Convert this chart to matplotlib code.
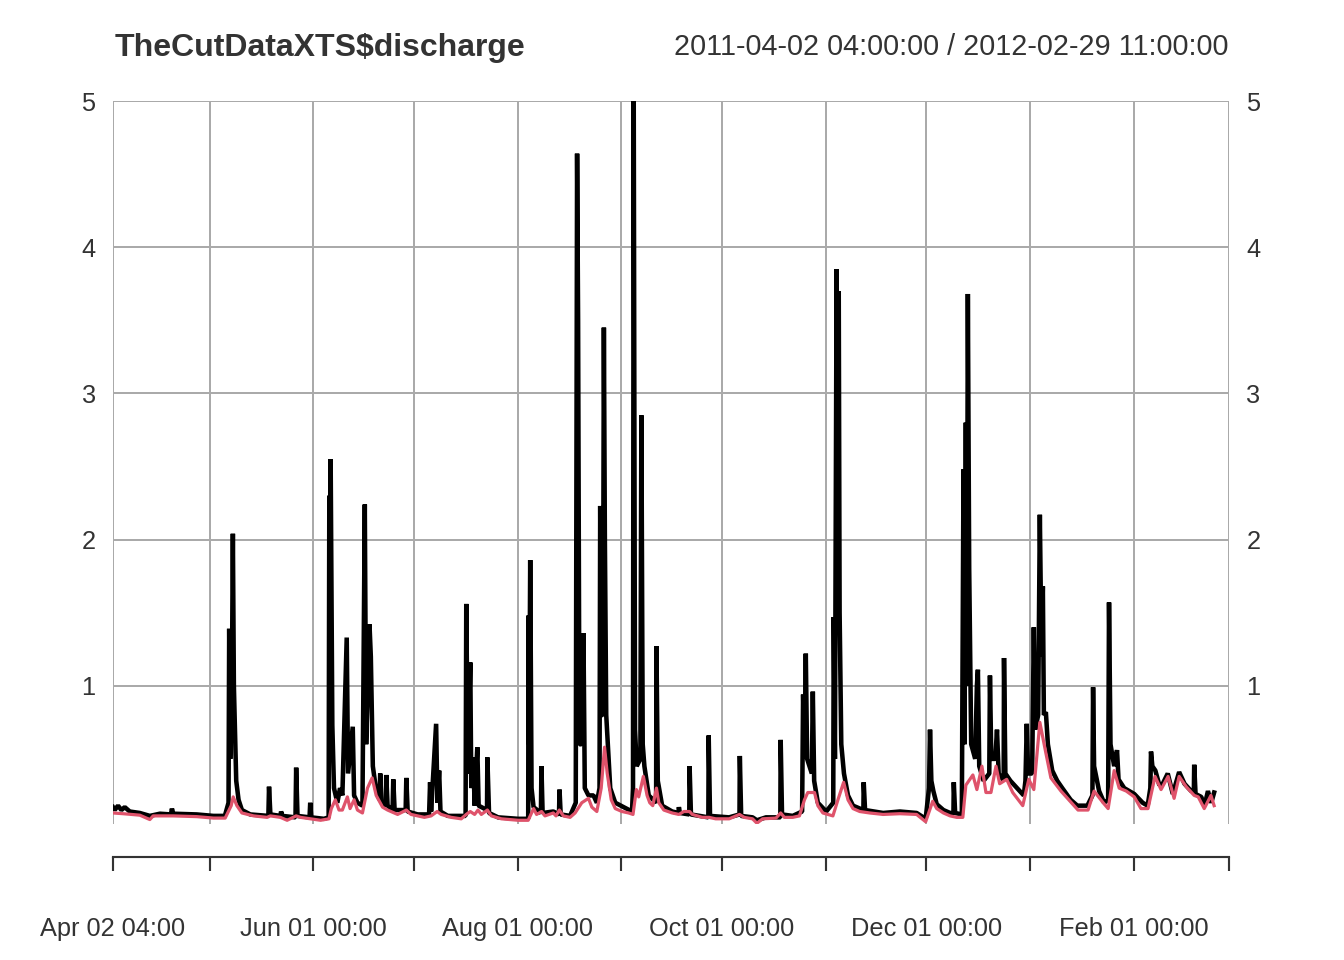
"""Recreate the xts discharge plot (black series + red smoothed series)."""

import matplotlib

matplotlib.use("Agg")

import matplotlib.pyplot as plt
import pandas as pd

plt.rcParams["font.family"] = ["Liberation Sans", "DejaVu Sans"]

START = pd.Timestamp("2011-04-02 04:00")
END = pd.Timestamp("2012-02-29 11:00")

TITLE = "TheCutDataXTS$discharge"
RANGE_TEXT = "2011-04-02 04:00:00 / 2012-02-29 11:00:00"

# days since START, discharge
black_days = [
    0, 0.5, 1.5, 2.5, 3.5, 5, 8, 11, 14, 17.3, 17.6, 18, 25, 30, 33.4,
    34.5, 34.7, 35.0, 35.5, 35.8, 36.1, 36.4, 36.8, 37.5, 38.5, 41,
    46.4, 46.6, 47.0, 50.0, 50.2, 50.6, 54.5, 54.7, 55.1, 58.7, 58.9, 59.2, 63, 64.4,
    64.6, 64.8, 65.0, 65.3, 65.5, 66, 67, 67.8, 68.5, 69.8, 70.2, 71.6, 72, 73, 74.5,
    75.2, 75.6, 76.6, 77.0, 77.6, 78.5, 79.6, 79.8, 80.2, 81.5, 81.6, 82, 83.5, 83.7,
    84.1, 87.4, 87.6, 88, 91, 94.4, 94.7, 95, 96.5, 96.9, 97.4, 97.8, 100, 105.3,
    105.5, 106, 106.7, 107.0, 107.6, 108, 108.8, 109.2, 111.7, 111.8, 112.3, 115, 121, 124,
    124.1, 124.3, 124.6, 125, 125.6, 127.8, 127.95, 128.3, 131.5, 133.2, 133.35, 133.7,
    136.5, 138.2, 138.6, 138.9, 139.3, 139.9, 140.5, 140.9, 142, 143.5, 144.5, 145.3,
    145.5, 145.8, 146.3, 146.6, 146.9, 147.3, 148.5, 150, 155, 155.3, 155.5, 155.9,
    156.4, 157.5, 157.8, 158.2, 158.7, 160, 162.2, 162.3, 162.7, 164, 167, 168.9, 169,
    169.3, 172.1, 172.2, 172.6, 177.8, 177.9, 178.3, 184, 187.1, 187.2, 187.6, 191,
    192.3, 195, 199.3, 199.4, 199.8, 203, 205.8, 206.1, 206.5, 206.9, 207.3, 208.7,
    209.0, 209.4, 210.5, 213, 215.1, 215.25, 215.6, 216.1, 216.5, 216.74, 217, 217.5,
    218.3, 219.5, 221, 224.1, 224.2, 224.6, 230, 235, 240, 242.7, 243.7, 244.0, 244.4,
    245, 246, 248, 250, 251.0, 251.1, 251.5, 253.5, 254.0, 254.3, 254.7, 255.0, 255.3,
    255.7, 256.3, 257.5, 258.0, 258.3, 258.7, 260, 261.7, 261.9, 262.3, 263.5, 264,
    264.5, 266, 266.1, 266.5, 268, 270, 272, 272.5, 272.9, 273.3, 274.5, 275.0, 275.4,
    276.3, 276.8, 277.3, 277.7, 278.0, 278.6, 279.2, 280.5, 282, 283.5, 286, 288, 291,
    292.5, 292.7, 293, 294.5, 296, 297.2, 297.46, 297.9, 299, 299.85, 300.3, 302, 305,
    307.5, 309, 309.8, 310.0, 310.4, 311.3, 312.5, 313.5, 315, 316.5, 318.4, 320, 322,
    322.8, 322.9, 323.3, 325, 326, 327, 328, 328.85,
]
black_values = [
    0.17, 0.15, 0.18, 0.15, 0.17, 0.14, 0.13, 0.11, 0.125, 0.12, 0.16, 0.125, 0.12, 0.11, 0.11,
    0.2, 1.39, 0.5, 1.0, 2.04, 1.0, 0.73, 0.35, 0.22, 0.15, 0.12,
    0.11, 0.31, 0.12, 0.11, 0.14, 0.11, 0.10, 0.44, 0.11, 0.1, 0.2, 0.1, 0.09, 0.1,
    2.3, 0.5, 2.55, 1.5, 0.73, 0.3, 0.2, 0.3, 0.25, 1.33, 0.4, 0.72, 0.25, 0.2, 0.18,
    2.24, 0.6, 1.42, 1.2, 0.45, 0.3, 0.22, 0.4, 0.2, 0.18, 0.39, 0.18, 0.15, 0.36,
    0.15, 0.15, 0.37, 0.14, 0.12, 0.12, 0.34, 0.14, 0.74, 0.2, 0.42, 0.14, 0.11, 0.11,
    1.56, 0.4, 1.16, 0.3, 0.51, 0.18, 0.58, 0.18, 0.15, 0.51, 0.13, 0.1, 0.09, 0.09,
    1.48, 0.6, 1.86, 0.3, 0.17, 0.13, 0.45, 0.13, 0.14, 0.12, 0.29, 0.12,
    0.11, 0.2, 4.64, 3.5, 0.6, 0.6, 1.36, 0.3, 0.25, 0.25, 0.2, 0.3,
    2.23, 0.8, 0.8, 3.45, 2.0, 0.8, 0.3, 0.2, 0.14, 0.3, 5.2, 0.7,
    0.45, 0.5, 2.85, 0.6, 0.45, 0.25, 0.2, 1.27, 0.35, 0.18, 0.14, 0.13, 0.17,
    0.13, 0.12, 0.45, 0.12, 0.1, 0.66, 0.11, 0.1, 0.12, 0.52, 0.11, 0.1,
    0.08, 0.1, 0.1, 0.63, 0.12, 0.11, 0.14, 0.94, 0.5, 1.22, 0.5, 0.4,
    0.96, 0.35, 0.2, 0.14, 0.2, 1.47, 0.5, 3.85, 1.5, 3.7, 1.5, 0.6,
    0.4, 0.25, 0.18, 0.15, 0.34, 0.15, 0.13, 0.14, 0.13, 0.09, 0.3, 0.7, 0.35,
    0.28, 0.19, 0.15, 0.13, 0.13, 0.34, 0.13, 0.12, 2.48, 0.6, 2.8, 1.0, 3.68,
    1.8, 0.6, 0.5, 1.0, 1.11, 0.45, 0.35, 0.4, 1.07, 0.5, 0.5, 0.7,
    0.4, 0.35, 1.19, 0.4, 0.35, 0.3, 0.25, 0.35, 0.74, 0.4, 0.4, 1.4, 0.7,
    0.8, 2.17, 1.2, 1.68, 0.8, 0.82, 0.6, 0.42, 0.35, 0.3, 0.22, 0.18, 0.18,
    0.25, 0.99, 0.45, 0.28, 0.2, 0.22, 1.57, 0.6, 0.45, 0.56, 0.36, 0.3, 0.26,
    0.2, 0.18, 0.3, 0.55, 0.45, 0.42, 0.32, 0.33, 0.4, 0.26, 0.41, 0.33, 0.28,
    0.28, 0.46, 0.26, 0.24, 0.18, 0.28, 0.2, 0.27,
]

red_days = [
    0, 3, 8, 11, 12, 18, 25, 30, 33.5, 35.3, 35.9, 37, 38.5, 42, 46, 47, 50, 52, 54.7,
    56, 59, 62, 64.5, 65.2, 66.4, 67.5, 68.5, 70, 70.8, 72, 73, 74.5, 76, 77.4, 78.6,
    79.8, 80.5, 82, 85, 87.6, 89, 93, 95, 96.8, 98, 101, 104, 105.5, 106.7, 108, 109,
    110, 111.8, 113, 116, 121, 124, 125.6, 126.5, 128, 129, 131.5, 132.3, 133.3, 134.5,
    136.5, 138, 140, 142, 143, 144.5, 145.8, 146.8, 147.6, 148.8, 150, 152, 154, 155.3,
    156.3, 157, 158.4, 159.5, 160.3, 161.2, 162.3, 163, 164.5, 167, 169, 170.5, 172.2,
    173, 176, 178, 180, 184, 187.1, 188.5, 191, 192.3, 194, 198, 199.4, 200.5, 203, 205,
    206.5, 207.5, 209.5, 210.5, 212, 213.5, 215, 216.5, 218.2, 219.5, 221, 223, 226,
    230, 235, 240, 242.7, 244.8, 246, 248, 250, 252, 253.8, 254.7, 256.8, 258.0, 259.5,
    260.7, 262.2, 263.7, 264.8, 266.9, 268.7, 271.7, 273.5, 275.0, 276.8, 278.6, 280.1,
    283.1, 288.2, 291.2, 293.0, 295.7, 297.2, 299.0, 300.5, 302.6, 305.0, 307.0, 309.1,
    311.2, 313.0, 315.1, 316.9, 318.4, 320.5, 322.9, 324.1, 325.9, 327.9, 328.85,
]
red_values = [
    0.13, 0.125, 0.115, 0.085, 0.11, 0.11, 0.105, 0.095, 0.095, 0.18, 0.24, 0.18, 0.13,
    0.11, 0.1, 0.11, 0.1, 0.08, 0.11, 0.1, 0.09, 0.08, 0.09, 0.16, 0.22, 0.15, 0.15, 0.24,
    0.16, 0.22, 0.15, 0.13, 0.3, 0.37, 0.25, 0.2, 0.17, 0.15, 0.12, 0.15, 0.12, 0.1, 0.11,
    0.14, 0.12, 0.1, 0.09, 0.12, 0.14, 0.12, 0.15, 0.12, 0.15, 0.11, 0.09, 0.08, 0.08,
    0.16, 0.12, 0.14, 0.11, 0.13, 0.11, 0.15, 0.11, 0.1, 0.13, 0.2, 0.23, 0.17, 0.14,
    0.3, 0.58, 0.4, 0.22, 0.16, 0.14, 0.13, 0.12, 0.29, 0.24, 0.38, 0.25, 0.2, 0.18, 0.3,
    0.2, 0.15, 0.13, 0.12, 0.14, 0.14, 0.12, 0.1, 0.1, 0.09, 0.09, 0.12, 0.1, 0.09, 0.06,
    0.09, 0.095, 0.13, 0.1, 0.1, 0.11, 0.22, 0.27, 0.27, 0.18, 0.13, 0.12, 0.11, 0.22,
    0.34, 0.22, 0.16, 0.14, 0.13, 0.12, 0.125, 0.12, 0.07, 0.21, 0.16, 0.13, 0.11, 0.1,
    0.1, 0.32, 0.39, 0.29, 0.45, 0.27, 0.27, 0.45, 0.33, 0.36, 0.27, 0.18, 0.36, 0.29,
    0.75, 0.54, 0.37, 0.28, 0.15, 0.15, 0.28, 0.2, 0.16, 0.42, 0.3, 0.28, 0.24, 0.16,
    0.16, 0.38, 0.29, 0.38, 0.23, 0.38, 0.31, 0.25, 0.24, 0.16, 0.25, 0.18,
]

label_ticks = ["2011-04-02 04:00", "2011-06-01 00:00", "2011-08-01 00:00",
               "2011-10-01 00:00", "2011-12-01 00:00", "2012-02-01 00:00"]
label_texts = ["Apr 02 04:00", "Jun 01 00:00", "Aug 01 00:00", "Oct 01 00:00", "Dec 01 00:00", "Feb 01 00:00"]
minor_ticks = ["2011-05-01 00:00", "2011-07-01 00:00", "2011-09-01 00:00",
               "2011-11-01 00:00", "2012-01-01 00:00", "2012-02-29 11:00"]
y_ticks = [1, 2, 3, 4, 5]

TEXT = "#333333"
GRID = "#AAAAAA"
RED = "#DF536B"


def main() -> None:
    fig = plt.figure(figsize=(7, 5), dpi=192)
    W, H = 1344, 960
    left, right, top, bottom = 113, 1229, 101, 823.5
    ax = fig.add_axes([left / W, 1 - bottom / H, (right - left) / W, (bottom - top) / H])

    bx = START + pd.to_timedelta(black_days, unit="D")
    rx = START + pd.to_timedelta(red_days, unit="D")
    ax.plot(bx, black_values, color="black", linewidth=1.7, solid_joinstyle="bevel", zorder=3)
    ax.plot(rx, red_values, color=RED, linewidth=1.2, zorder=4)

    ax.set_xlim(START, END)
    ax.set_ylim(0.058, 5)

    ax.set_xticks(pd.to_datetime(label_ticks, format="%Y-%m-%d %H:%M"))
    ax.set_xticklabels(label_texts)
    ax.set_xticks(pd.to_datetime(minor_ticks, format="%Y-%m-%d %H:%M"), minor=True)
    ax.set_yticks(y_ticks)
    ax.set_yticklabels([str(v) for v in y_ticks])

    for spine in ("top", "left", "right"):
        ax.spines[spine].set_visible(False)
    ax.spines["bottom"].set_position(("outward", 12.4))
    ax.spines["bottom"].set_color(TEXT)
    ax.spines["bottom"].set_linewidth(0.8)

    ax.tick_params(axis="x", which="both", direction="out", length=5.2, width=0.8,
                   color=TEXT, labelcolor=TEXT, labelsize=9.5, pad=17.5)
    ax.tick_params(axis="y", length=0, labelleft=True, labelright=True,
                   labelcolor=TEXT, labelsize=9.5, pad=6.5)

    ax.grid(True, axis="x", which="both", color=GRID, linewidth=0.75)
    ax.grid(True, axis="y", which="major", color=GRID, linewidth=0.75)
    ax.set_axisbelow(True)

    fig.text(115 / W, 1 - 56 / H, TITLE, fontsize=12, fontweight="bold", color=TEXT,
             ha="left", va="baseline")
    fig.text(1229 / W, 1 - 55 / H, RANGE_TEXT, fontsize=10.8, color=TEXT,
             ha="right", va="baseline")

    fig.savefig("out.png", dpi=192)
    plt.close(fig)


if __name__ == "__main__":
    main()
